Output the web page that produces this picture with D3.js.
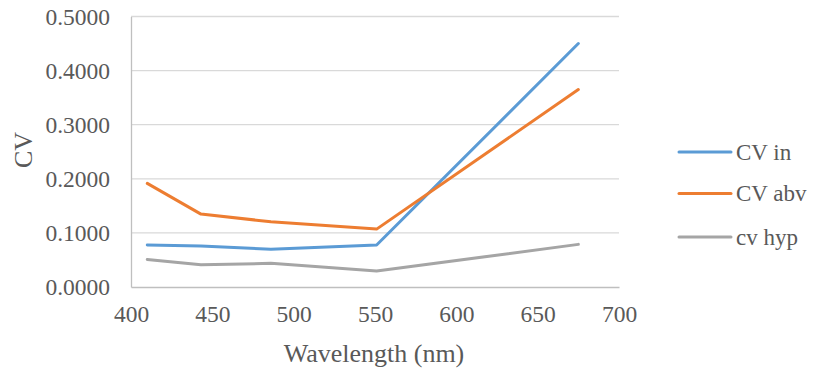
<!DOCTYPE html>
<html><head><meta charset="utf-8">
<script src="https://cdn.jsdelivr.net/npm/d3@7"></script>
<style>body{margin:0;background:#fff}svg{display:block}svg text{font-family:"Liberation Serif","Times New Roman",serif !important;fill:#595959}</style>
</head><body><svg id="c" width="817" height="369"></svg>
<script>
const wavelengths = [410, 443, 486, 551, 675];
const cvIn  = [0.0776, 0.0760, 0.0696, 0.0776, 0.4500];
const cvAbv = [0.1915, 0.1348, 0.1206, 0.1070, 0.3650];
const cvHyp = [0.0510, 0.0410, 0.0437, 0.0295, 0.0788];
const seriesNames = ["CV in", "CV abv", "cv hyp"];
const seriesColors = ["#5B9BD5", "#ED7D31", "#A5A5A5"];
const xTicks = [400, 450, 500, 550, 600, 650, 700];
const yTicks = [0, 0.1, 0.2, 0.3, 0.4, 0.5];

const FONT = '"Liberation Serif","Times New Roman",serif';
const svg = d3.select("#c");
const L = 131, R = 619, T = 16.5, B = 287;
const x = d3.scaleLinear().domain([400, 700]).range([L, R]);
const y = d3.scaleLinear().domain([0, 0.5]).range([B, T]);

// gridlines
svg.append("g").selectAll("line").data(yTicks.filter(d => d > 0)).join("line")
  .attr("x1", L).attr("x2", R).attr("y1", d => y(d)).attr("y2", d => y(d))
  .attr("stroke", "#d9d9d9").attr("stroke-width", 1.3);

// axes
const ya = svg.append("g").attr("transform", `translate(${L},0)`)
  .call(d3.axisLeft(y).tickValues(yTicks).tickFormat(d3.format(".4f")).tickSize(0).tickPadding(21));
ya.attr("font-family", FONT);
ya.select(".domain").attr("stroke", "#bfbfbf").attr("stroke-width", 1.3);
ya.selectAll("text").style("font-size", "23.5px").style("fill", "#595959").style("font-family", FONT);

const xa = svg.append("g").attr("transform", `translate(0,${B})`)
  .call(d3.axisBottom(x).tickValues(xTicks).tickFormat(d3.format("d")).tickSize(0).tickPadding(18));
xa.attr("font-family", FONT);
xa.select(".domain").attr("stroke", "#bfbfbf").attr("stroke-width", 1.3);
xa.selectAll("text").style("font-size", "23.5px").style("fill", "#595959").style("font-family", FONT);

// lines
const allSeries = [cvIn, cvAbv, cvHyp];
const line = d3.line().x((d, i) => x(wavelengths[i])).y(d => y(d));
allSeries.forEach((s, k) => {
  svg.append("path").datum(s).attr("d", line).attr("fill", "none")
    .attr("stroke", seriesColors[k]).attr("stroke-width", 3)
    .attr("stroke-linecap", "round").attr("stroke-linejoin", "round");
});

// axis titles
svg.append("text").attr("x", 374).attr("y", 362).attr("text-anchor", "middle")
  .style("font-size", "26px").text("Wavelength (nm)");
svg.append("text").attr("transform", "translate(32,150) rotate(-90)").attr("text-anchor", "middle")
  .style("font-size", "26px").text("CV");

// legend
const legY = [152, 193.5, 237];
const lg = svg.append("g");
seriesNames.forEach((n, k) => {
  lg.append("line").attr("x1", 679).attr("x2", 731).attr("y1", legY[k]).attr("y2", legY[k])
    .attr("stroke", seriesColors[k]).attr("stroke-width", 3).attr("stroke-linecap", "round");
  lg.append("text").attr("x", 736).attr("y", legY[k] + 7.5).style("font-size", "23px").text(n);
});
</script></body></html>
